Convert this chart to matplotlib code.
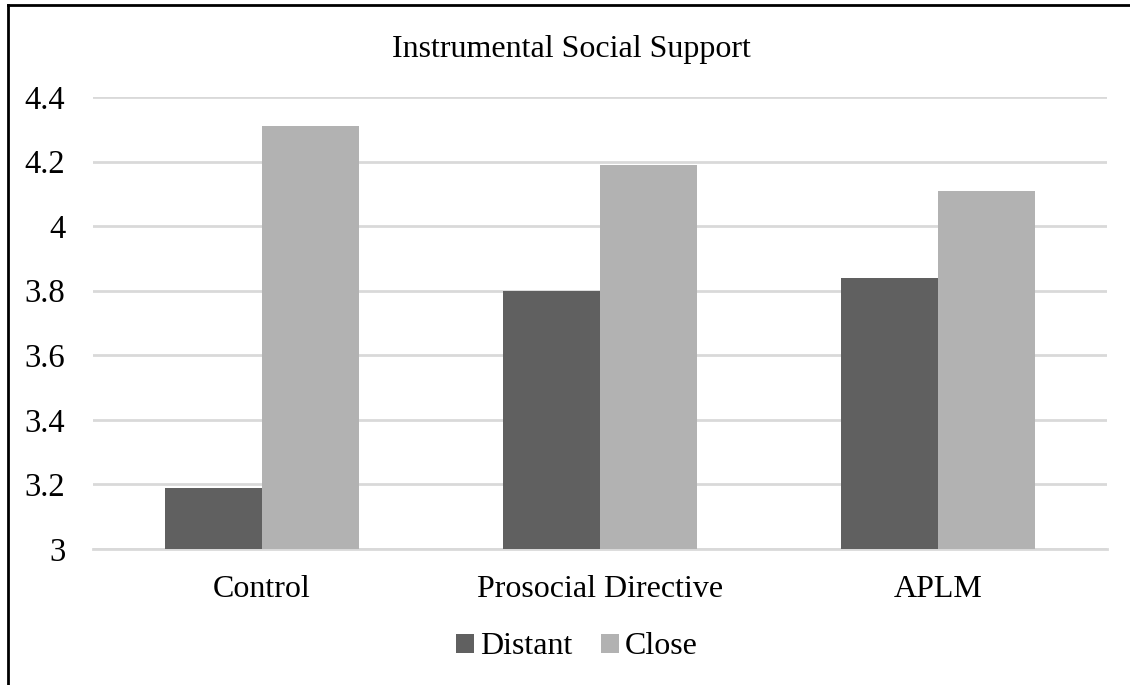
import numpy as np
import matplotlib.pyplot as plt
from matplotlib.lines import Line2D

categories = ["Control", "Prosocial Directive", "APLM"]
distant = [3.19, 3.80, 3.84]
close = [4.31, 4.19, 4.11]
yticks = [3, 3.2, 3.4, 3.6, 3.8, 4, 4.2, 4.4]
ytick_labels = ["3", "3.2", "3.4", "3.6", "3.8", "4", "4.2", "4.4"]

plt.rcParams['font.family'] = ['Liberation Serif', 'DejaVu Serif']

fig = plt.figure(figsize=(11.3, 6.85), dpi=100)
ax = fig.add_axes([93 / 1130, 1 - 549 / 685, (1107 - 93) / 1130, (549 - 97) / 685])

x = np.arange(len(categories))
width = 0.287
ax.bar(x - width / 2, distant, width, color="#606060", label="Distant", zorder=2)
ax.bar(x + width / 2, close, width, color="#b2b2b2", label="Close", zorder=2)

ax.set_ylim(3, 4.4)
ax.set_xlim(-0.5, 2.5)
ax.set_yticks(yticks)
ax.set_yticklabels(ytick_labels, fontsize=23.5)
ax.set_xticks(x)
ax.set_xticklabels(categories, fontsize=23)
ax.tick_params(length=0)
ax.tick_params(axis='y', pad=20)
ax.tick_params(axis='x', pad=19)
ax.grid(axis='y', color="#d9d9d9", linewidth=2, zorder=0)
ax.axhline(3, color="#d9d9d9", linewidth=2, zorder=1, clip_on=False)
for s in ax.spines.values():
    s.set_visible(False)

# title
fig.text(571 / 1130, 1 - 50 / 685, "Instrumental Social Support", ha="center", va="center", fontsize=23)

# legend
fig.legend(loc="center", bbox_to_anchor=(577 / 1130, 1 - 647 / 685), ncol=2, frameon=False,
           fontsize=23, handlelength=0.55, handleheight=0.55, handletextpad=0.2,
           columnspacing=0.9)

# outer border (left and top only)
fig.add_artist(Line2D([8 / 1130, 8 / 1130], [0, 1 - 5 / 685], color="black", linewidth=2))
fig.add_artist(Line2D([8 / 1130, 1], [1 - 5 / 685, 1 - 5 / 685], color="black", linewidth=2))

fig.savefig("out.png", dpi=100)
